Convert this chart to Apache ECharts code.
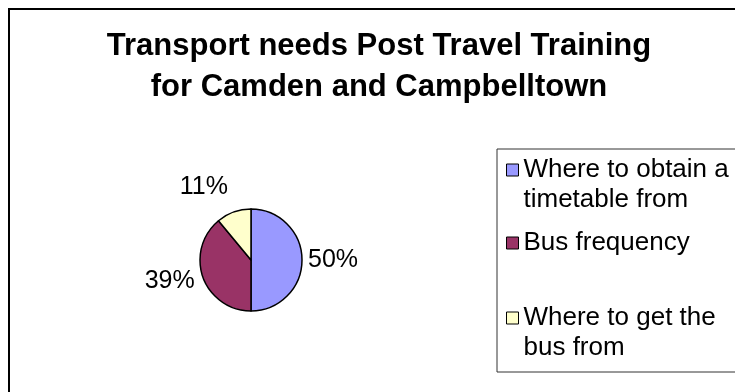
<!DOCTYPE html>
<html>
<head>
<meta charset="utf-8">
<script src="https://cdn.jsdelivr.net/npm/echarts@6/dist/echarts.min.js"></script>
<style>html,body{margin:0;padding:0;background:#fff;}#c{width:735px;height:392px;}</style>
</head>
<body>
<div id="c"></div>
<script>
const titleLines = ['Transport needs Post Travel Training', 'for Camden and Campbelltown'];
const categories = ['Where to obtain a timetable from', 'Bus frequency', 'Where to get the bus from'];
const legendLabels = ['Where to obtain a\ntimetable from', 'Bus frequency', 'Where to get the\nbus from'];
const values = [50, 39, 11];
const colors = ['#9999FF', '#993366', '#FFFFCC'];
const labelLineLengths = [1, 11, 26];
const labelDistances = [5, -2, -3];
const legendCenters = [170, 243, 318];

const FONT = '"Liberation Sans", Arial, sans-serif';
const LH = 30;

const chart = echarts.init(document.getElementById('c'), null, {renderer: 'canvas'});

const legends = categories.map((name, i) => {
  const lines = legendLabels[i].split('\n').length;
  // for multi-line entries, a blank leading line keeps the marker level with the first line
  const text = lines > 1 ? '\u00a0\n' + legendLabels[i] : legendLabels[i];
  const blockLines = lines > 1 ? lines + 1 : 1;
  return {
    data: [name],
    left: 506,
    top: legendCenters[i] - blockLines * LH / 2,
    orient: 'vertical',
    padding: 0,
    itemWidth: 12,
    itemHeight: 12,
    itemGap: 0,
    icon: 'rect',
    selectedMode: false,
    itemStyle: {borderColor: '#000', borderWidth: 1},
    formatter: () => text,
    textStyle: {
      fontFamily: FONT,
      fontSize: 26,
      color: '#000',
      lineHeight: LH
    }
  };
});

chart.setOption({
  animation: false,
  backgroundColor: '#fff',
  title: {
    text: titleLines.join('\n'),
    left: 379,
    top: 25.5,
    padding: 0,
    textAlign: 'center',
    textStyle: {fontFamily: FONT, fontSize: 31, fontWeight: 'bold', color: '#000', lineHeight: 41}
  },
  legend: legends,
  graphic: [
    {type: 'rect', shape: {x: 9, y: 9, width: 800, height: 500}, style: {fill: 'none', stroke: '#000', lineWidth: 2}, silent: true, z: -1},
    {type: 'rect', shape: {x: 497, y: 149, width: 300, height: 223}, style: {fill: 'none', stroke: '#333', lineWidth: 1}, silent: true, z: -1}
  ],
  series: [{
    type: 'pie',
    center: [251, 260],
    radius: 51,
    startAngle: 90,
    clockwise: true,
    avoidLabelOverlap: false,
    itemStyle: {borderColor: '#000', borderWidth: 1.5},
    label: {
      show: true,
      position: 'outside',
      formatter: '{c}%',
      fontFamily: FONT,
      fontSize: 25,
      color: '#000'
    },
    labelLine: {show: false, length: 5, length2: 0},
    emphasis: {disabled: true},
    data: categories.map((name, i) => ({
      name: name,
      value: values[i],
      itemStyle: {color: colors[i]},
      label: {distanceToLabelLine: labelDistances[i]},
      labelLine: {show: false, length: labelLineLengths[i], length2: 0}
    }))
  }]
});
</script>
</body>
</html>
